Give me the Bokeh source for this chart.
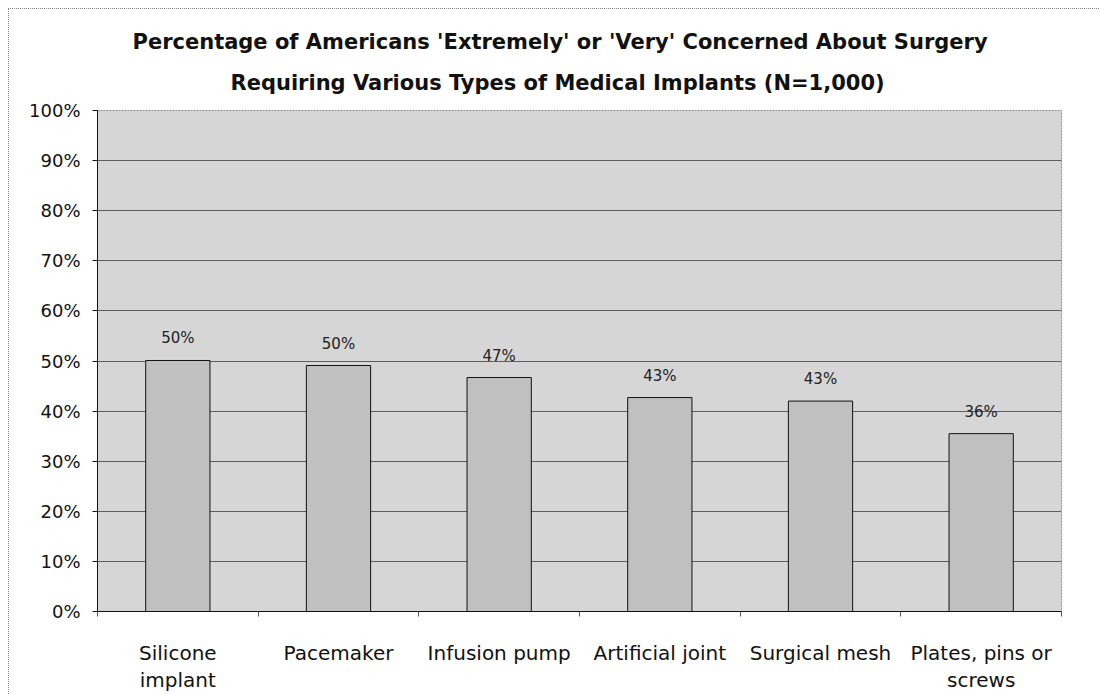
from bokeh.plotting import figure
from bokeh.models import (Range1d, LinearAxis, FixedTicker, Title,
                          PrintfTickFormatter, ColumnDataSource, LabelSet)
from bokeh.core.properties import value
from bokeh.embed import file_html
from bokeh.resources import INLINE

categories = ["Silicone\nimplant", "Pacemaker", "Infusion pump", "Artificial joint",
              "Surgical mesh", "Plates, pins or\nscrews"]
values = [50.1, 49.1, 46.7, 42.7, 42.0, 35.5]
value_labels = ["50%", "50%", "47%", "43%", "43%", "36%"]
y_ticks = [0, 10, 20, 30, 40, 50, 60, 70, 80, 90, 100]
title_lines = ["Percentage of Americans 'Extremely' or 'Very' Concerned About Surgery",
               "Requiring Various Types of Medical Implants (N=1,000)"]

FONT = "DejaVu Sans"
W, H = 1091, 686
n = len(categories)
centers = [i + 0.5 for i in range(n)]
bounds = list(range(n + 1))

p = figure(width=W, height=H, x_range=Range1d(0, n),
           y_range=Range1d(0, 100), x_axis_location=None,
           output_backend="svg", toolbar_location=None,
           min_border_left=88, min_border_right=39, min_border_top=101, min_border_bottom=83)
p.background_fill_color = "#d6d6d6"
p.border_fill_color = "white"
p.outline_line_color = "#8a8a8a"
p.outline_line_dash = "2 1"
p.styles = {"margin-left": "8px", "margin-top": "8px",
            "border-left": "1px dotted #888888", "border-top": "1px dotted #888888"}
p.xgrid.grid_line_color = None

src = ColumnDataSource(dict(x=centers, top=values, lab=value_labels))
p.vbar(x="x", top="top", width=0.4, source=src, fill_color="#c0c0c0",
       line_color="#111111", line_width=1)
p.add_layout(LabelSet(x="x", y="top", text="lab", source=src, y_offset=13,
                      text_align="center", text_baseline="bottom",
                      text_font=value(FONT), text_font_size="15px", text_color="#222222"))

# y axis
yax = p.yaxis[0]
yax.ticker = FixedTicker(ticks=y_ticks)
yax.formatter = PrintfTickFormatter(format="%d%%")
yax.major_label_text_font = FONT
yax.major_label_text_font_size = "18px"
yax.major_label_text_color = "#111111"
yax.major_tick_in = 0
yax.major_tick_out = 5
yax.minor_tick_line_color = None
yax.major_label_standoff = 12
yax.axis_line_color = "#111111"
yax.major_tick_line_color = "#111111"

p.ygrid.ticker = FixedTicker(ticks=y_ticks)
p.ygrid.grid_line_color = "#5e5e5e"
p.ygrid.grid_line_width = 1

# x axis: labels at category centres, small ticks at category boundaries
xax = LinearAxis(ticker=FixedTicker(ticks=centers, minor_ticks=bounds),
                 major_label_overrides={c: lab for c, lab in zip(centers, categories)},
                 axis_line_color="#111111", major_tick_line_color=None,
                 major_tick_in=0, major_tick_out=0,
                 minor_tick_in=0, minor_tick_out=5, minor_tick_line_color="#555555",
                 major_label_text_font=FONT, major_label_text_font_size="20px",
                 major_label_text_color="#111111", major_label_standoff=24,
                 major_label_text_line_height=1.15)
p.add_layout(xax, "below")

# two-line title
t2 = Title(text=title_lines[1], align="left", offset=133, text_font=FONT,
           text_font_size="21px", text_font_style="bold", text_color="#111111", standoff=31)
t1 = Title(text=title_lines[0], align="left", offset=35, text_font=FONT,
           text_font_size="21px", text_font_style="bold", text_color="#111111", standoff=0)
p.add_layout(t2, "above")
p.add_layout(t1, "above")

open("out.html", "w").write(file_html(p, INLINE))
